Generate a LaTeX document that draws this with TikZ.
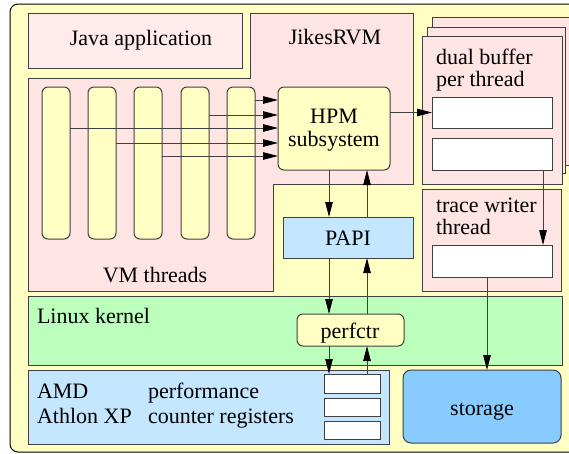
\documentclass[tikz,border=0pt]{standalone}
\usepackage{fontspec}
\setmainfont{Liberation Serif}
\usetikzlibrary{arrows.meta}
\definecolor{ybg}{HTML}{FFFFC4}
\definecolor{pinkbg}{HTML}{FFE4E4}
\definecolor{javabg}{HTML}{FFEBEB}
\definecolor{greenbg}{HTML}{BCFFBC}
\definecolor{bluebg}{HTML}{C4E6FF}
\definecolor{storebg}{HTML}{88CCFF}
\definecolor{lc}{HTML}{404040}
\begin{document}
\begin{tikzpicture}[x=1pt,y=-1pt,
  every node/.style={font=\rmfamily\fontsize{22}{26}\selectfont, inner sep=0pt, outer sep=0pt},
  box/.style={draw=lc, line width=1pt, anchor=north west, rectangle},
  wbox/.style={box, fill=white, minimum width=120pt},
  regbox/.style={box, fill=white, minimum width=56pt},
  colbox/.style={box, fill=ybg, rounded corners=6pt, minimum width=28pt, minimum height=152pt},
  arr/.style={draw=lc, line width=1pt, -{Triangle[length=15pt,width=7.5pt,color=black]}},
  lbl/.style={anchor=base},
  lblw/.style={anchor=base west}]
\useasboundingbox (0,0) rectangle (569,453);
% outer background
\draw[draw=black, line width=1pt, fill=ybg, rounded corners=8pt] (10,4) rectangle (580,452);
% Java application
\node[box, fill=javabg, minimum width=214pt, minimum height=55pt] (java) at (28,13) {};
\node[lbl] (javat) at (141,45) {Java application};
% JikesRVM region
\draw[draw=lc, line width=1pt, fill=pinkbg] (28,78) -- (250,78) -- (250,13) -- (413,13) -- (413,184) -- (273,184) -- (273,291) -- (28,291) -- cycle;
\node[lbl] (jikest) at (335,44) {JikesRVM};
\node[lbl] (vmt) at (155,282) {VM threads};
% VM thread columns
\foreach \x [count=\i] in {42,88,134,181,227}
  \node[colbox] (c\i) at (\x,87) {};
% HPM subsystem
\node[box, fill=ybg, rounded corners=6pt, minimum width=112pt, minimum height=83pt] (hpm) at (278,87) {};
\node[lbl] (hpmt1) at (334,123) {HPM};
\node[lbl] (hpmt2) at (334,146) {subsystem};
% arrows from threads to HPM
\coordinate (r5) at (0,100);
\coordinate (r4) at (0,115);
\coordinate (r1) at (0,128);
\coordinate (r2) at (0,143);
\coordinate (r3) at (0,156);
\foreach \i in {5,4,1,2,3}
  \draw[arr] (c\i.east |- r\i) -- (hpm.west |- r\i);
% PAPI
\node[box, fill=bluebg, minimum width=130pt, minimum height=41pt] (papi) at (283,217) {};
\node[lbl] (papit) at (348,245) {PAPI};
% dual buffer pages
\node[box, fill=pinkbg, minimum width=145pt, minimum height=148pt] (page3) at (432,17) {};
\node[box, fill=pinkbg, minimum width=138pt, minimum height=146pt] (page2) at (427,27) {};
\node[box, fill=pinkbg, minimum width=140pt, minimum height=148pt] (page1) at (422,36) {};
\node[lblw] (dbt1) at (436,64) {dual buffer};
\node[lblw] (dbt2) at (436,86) {per thread};
\node[wbox, minimum height=31pt] (wb1) at (432,97) {};
\node[wbox, minimum height=32pt] (wb2) at (432,138) {};
% trace writer thread
\node[box, fill=pinkbg, minimum width=139pt, minimum height=102pt] (tw) at (422,189) {};
\node[lblw] (twt1) at (436,212) {trace writer};
\node[lblw] (twt2) at (436,234) {thread};
\node[wbox, minimum height=32pt] (tww) at (432,245) {};
% Linux kernel
\node[box, fill=greenbg, minimum width=534pt, minimum height=69pt] (linux) at (28,296) {};
\node[lblw] (linuxt) at (37,323) {Linux kernel};
\node[box, fill=ybg, rounded corners=6pt, minimum width=107pt, minimum height=32pt] (perf) at (297,314) {};
\node[lbl] (perft) at (350,338) {perfctr};
% AMD
\node[box, fill=bluebg, minimum width=361pt, minimum height=74pt] (amd) at (28,370) {};
\node[lblw] (amdt1) at (37,398) {AMD};
\node[lblw] (amdt2) at (37,423) {Athlon XP};
\node[lblw] (amdt3) at (148,398) {performance};
\node[lblw] (amdt4) at (148,423) {counter registers};
\node[regbox, minimum height=19pt] (reg1) at (324,374) {};
\node[regbox, minimum height=18pt] (reg2) at (324,398) {};
\node[regbox, minimum height=18pt] (reg3) at (324,421) {};
% storage
\node[box, fill=storebg, rounded corners=8pt, minimum width=158pt, minimum height=73pt] (store) at (403,370) {};
\node[lbl] (storet) at (482,415) {storage};
% vertical arrows
\coordinate (dx) at (329,0);
\coordinate (ux) at (367,0);
\coordinate (bx) at (543,0);
\coordinate (sx) at (487,0);
\draw[arr] (hpm.east |- wb1) -- (wb1.west);
\draw[arr] (hpm.south -| dx) -- (papi.north -| dx);
\draw[arr] (papi.north -| ux) -- (hpm.south -| ux);
\draw[arr] (papi.south -| dx) -- (perf.north -| dx);
\draw[arr] (perf.north -| ux) -- (papi.south -| ux);
\draw[arr] (perf.south -| dx) -- (reg1.north -| dx);
\draw[arr] (reg1.north -| ux) -- (perf.south -| ux);
\draw[arr] (wb2.south -| bx) -- (tww.north -| bx);
\draw[arr] (tww.south -| sx) -- (store.north -| sx);
\end{tikzpicture}
\end{document}
